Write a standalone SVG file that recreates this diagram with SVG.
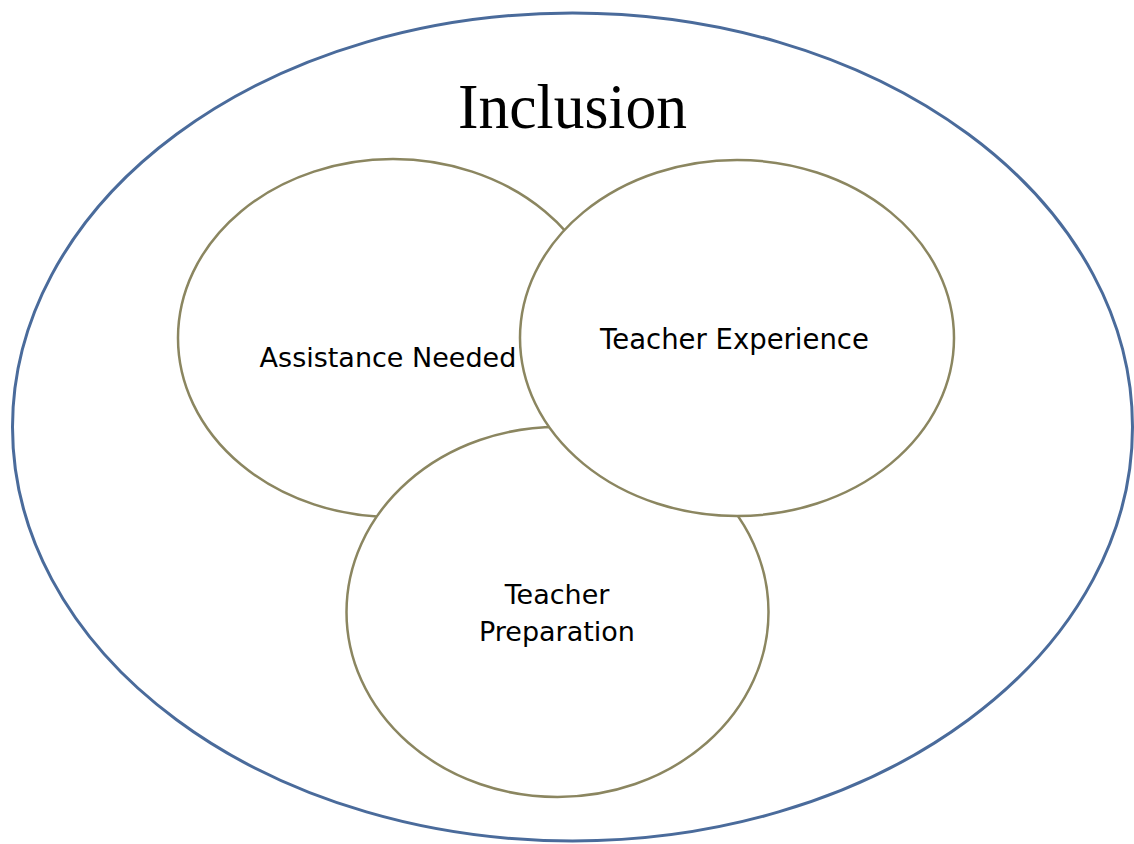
<svg xmlns="http://www.w3.org/2000/svg" width="1134" height="844" viewBox="0 0 1134 844">
<style>
.outer{fill:#ffffff;stroke:#4a6b9b;stroke-width:3}
.set{fill:#ffffff;stroke:#8b8660;stroke-width:2.5}
.lbl{font-family:"DejaVu Sans","Noto Sans",sans-serif;font-size:27px;fill:#000000;text-anchor:middle}
.title{font-family:"Liberation Serif","Times New Roman",serif;font-size:63px;fill:#000000}
</style>
<rect x="0" y="0" width="1134" height="844" fill="#ffffff"/>
<g id="inclusion">
<ellipse class="outer" cx="572.5" cy="427" rx="560" ry="414"/>
<text class="title" x="458" y="128" textLength="229" lengthAdjust="spacingAndGlyphs">Inclusion</text>
</g>
<g id="connectors"></g>
<g id="assistance-needed">
<ellipse class="set" cx="393" cy="338" rx="215" ry="179"/>
<text class="lbl" x="388" y="367">Assistance Needed</text>
</g>
<g id="teacher-preparation">
<ellipse class="set" cx="557.5" cy="612" rx="211" ry="185"/>
<text class="lbl" x="557" y="604">Teacher</text>
<text class="lbl" x="557" y="641">Preparation</text>
</g>
<g id="teacher-experience">
<ellipse class="set" cx="737" cy="338" rx="217" ry="178"/>
<text class="lbl" x="734.5" y="349" style="font-size:27.5px">Teacher Experience</text>
</g>
</svg>
